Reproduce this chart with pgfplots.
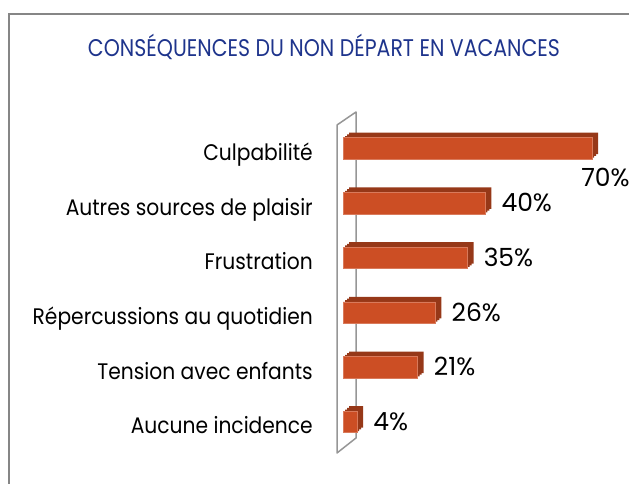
\documentclass[border=0pt]{standalone}
\usepackage{pgfplots}
\pgfplotsset{compat=1.18}
\usepackage{pgfplotstable}
\usepackage{fontspec}
\setmainfont{Poppins}
\newfontfamily\titlefont{Poppins}
\newfontfamily\labfont[FakeStretch=0.9]{Poppins}
\definecolor{barfront}{RGB}{204,78,36}
\definecolor{barside}{RGB}{150,56,24}
\definecolor{titleblue}{RGB}{30,52,140}
\definecolor{framegray}{RGB}{134,134,134}
\definecolor{wallgray}{RGB}{150,150,150}

\pgfplotstableread{
y val lab dx dy
5 70 70 -11 -38.5
4 40 40 16 -8.5
3 35 35 16 -8.5
2 26 26 16 -8.5
1 21 21 16 -8.5
0 4 4 16 -8.5
}\data

\begin{document}
\begin{tikzpicture}[x=1pt,y=1pt]
\useasboundingbox (0,0) rectangle (629,484);
\draw[framegray, line width=2pt] (9,0) -- (9,470) -- (629,470);
\node[titleblue, anchor=base, inner sep=0pt] at (324,427) {\resizebox{472pt}{17pt}{\titlefont\vphantom{C}\smash{CONSÉQUENCES DU NON DÉPART EN VACANCES}}};
\draw[wallgray, line width=1.5pt, line join=round] (337,359) -- (356,372) -- (356,46) -- (337,31) -- cycle;
\begin{axis}[
  at={(343pt,7.3pt)}, anchor=south west,
  scale only axis, width=284.6pt, height=382.9pt,
  xmin=0, xmax=80, ymin=-1, ymax=6,
  axis line style={draw=none}, tick style={draw=none},
  xtick=\empty, ytick={0,...,5},
  yticklabels={Aucune incidence, Tension avec enfants, Répercussions au quotidien, Frustration, Autres sources de plaisir, Culpabilité},
  yticklabel style={anchor=base east, inner sep=0pt, xshift=-30pt, yshift=-12pt, font=\labfont\fontsize{22.5}{26}\selectfont},
  clip=false,
]
\addplot[xbar, bar shift=0pt, bar width=21.5pt, fill=barside, draw=none, xshift=2pt, yshift=1.67pt] table[x=val,y=y]{\data};
\addplot[xbar, bar shift=0pt, bar width=21.5pt, fill=barside, draw=none, xshift=4pt, yshift=3.33pt] table[x=val,y=y]{\data};
\addplot[xbar, bar shift=0pt, bar width=21.5pt, fill=barside, draw=none, xshift=6pt, yshift=5pt] table[x=val,y=y]{\data};
\addplot[xbar, bar shift=0pt, bar width=21.5pt, fill=barfront, draw=barfront!75!white, line width=0.5pt,
  point meta=explicit symbolic,
  visualization depends on={\thisrow{dx} \as \dx},
  visualization depends on={\thisrow{dy} \as \dy},
  nodes near coords={\pgfplotspointmeta\%},
  every node near coord/.append style={anchor=base west, inner sep=0pt, xshift=\dx pt, yshift=\dy pt, font=\fontsize{25}{28}\selectfont, black}
] table[x=val,y=y,meta=lab]{\data};
\end{axis}
\end{tikzpicture}
\end{document}
